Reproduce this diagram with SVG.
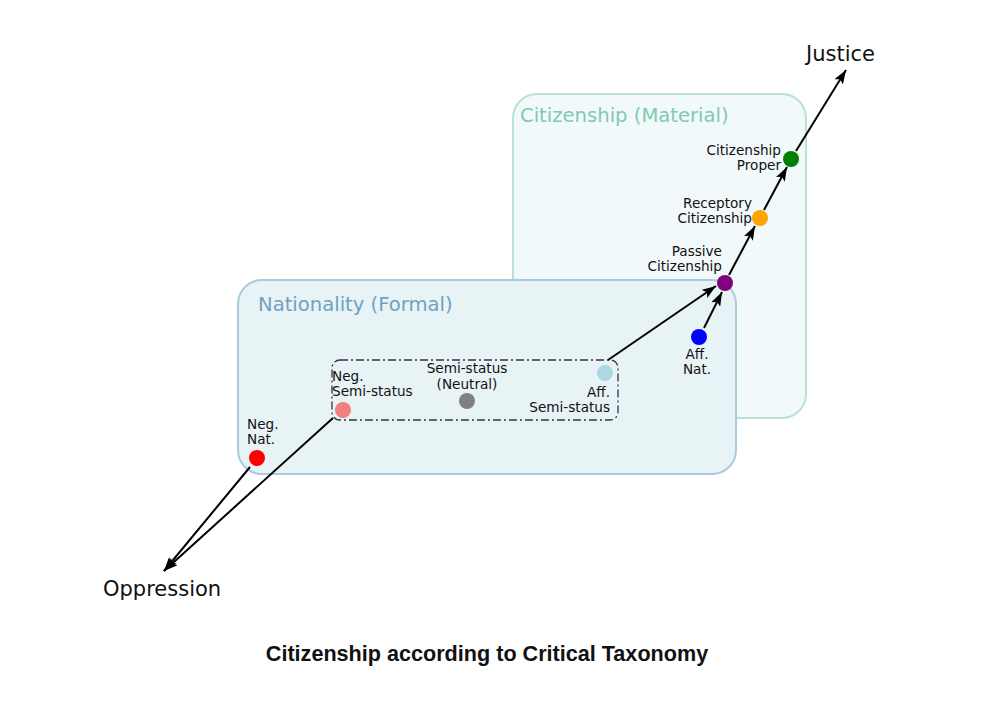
<svg xmlns="http://www.w3.org/2000/svg" width="1000" height="702" viewBox="0 0 1000 702">
<defs>
<marker id="ah" viewBox="0 0 14 10" refX="14" refY="5" markerWidth="14" markerHeight="10" markerUnits="userSpaceOnUse" orient="auto">
<path d="M0,0 L14,5 L0,10 L3,5 Z" fill="#000"/>
</marker>
</defs>
<style>
.lbl{font-family:"DejaVu Sans",Verdana,sans-serif;font-size:13.6px;fill:#111}
.big{font-family:"DejaVu Sans",Verdana,sans-serif;font-size:21px;fill:#111}
.edge{stroke:#000;stroke-width:2;fill:none;marker-end:url(#ah)}
</style>
<rect width="1000" height="702" fill="#fff"/>
<g id="citizenship-box">
<rect x="513" y="94" width="293" height="324" rx="24" fill="#f2f9fb" stroke="#b8e2d6" stroke-width="2"/>
<text x="520" y="122" font-family="DejaVu Sans,Verdana,sans-serif" font-size="19.6" fill="#7fcab0">Citizenship (Material)</text>
</g>
<g id="nationality-box">
<rect x="238" y="280" width="498" height="194" rx="24" fill="#e8f3f6" stroke="#a9cbdb" stroke-width="2"/>
<text x="258" y="311" font-family="DejaVu Sans,Verdana,sans-serif" font-size="19.6" fill="#6fa2c0">Nationality (Formal)</text>
</g>
<g id="semistatus-box">
<rect x="332" y="360" width="286" height="60" rx="8" fill="none" stroke="#334" stroke-width="1.3" stroke-dasharray="8,3,2,3"/>
</g>
<g id="connectors">
<line class="edge" x1="250" y1="467" x2="164" y2="571"/>
<line class="edge" x1="333" y1="418" x2="164" y2="571"/>
<line class="edge" x1="608" y1="360" x2="716" y2="286"/>
<line class="edge" x1="704" y1="328" x2="722" y2="292"/>
<line class="edge" x1="729" y1="275" x2="755" y2="226"/>
<line class="edge" x1="764" y1="210" x2="787" y2="167"/>
<line class="edge" x1="796" y1="151" x2="846" y2="70"/>
</g>
<g id="oppression"><text class="big" x="103" y="596">Oppression</text></g>
<g id="justice"><text class="big" x="806" y="61">Justice</text></g>
<g id="neg-nat">
<circle cx="257" cy="458" r="8" fill="#ff0000"/>
<text class="lbl" x="247" y="429">Neg.</text>
<text class="lbl" x="247" y="444">Nat.</text>
</g>
<g id="neg-semi">
<circle cx="343" cy="410" r="8" fill="#f08080"/>
<text class="lbl" x="332" y="381">Neg.</text>
<text class="lbl" x="332" y="396">Semi-status</text>
</g>
<g id="neutral-semi">
<circle cx="467" cy="401" r="8" fill="#808080"/>
<text class="lbl" x="467" y="373" text-anchor="middle">Semi-status</text>
<text class="lbl" x="467" y="389" text-anchor="middle">(Neutral)</text>
</g>
<g id="aff-semi">
<circle cx="605" cy="373" r="8" fill="#add8e6"/>
<text class="lbl" x="610" y="397" text-anchor="end">Aff.</text>
<text class="lbl" x="610" y="412" text-anchor="end">Semi-status</text>
</g>
<g id="aff-nat">
<circle cx="699" cy="337" r="8" fill="#0000ff"/>
<text class="lbl" x="697" y="359" text-anchor="middle">Aff.</text>
<text class="lbl" x="697" y="374" text-anchor="middle">Nat.</text>
</g>
<g id="passive">
<circle cx="725" cy="283" r="8" fill="#800080"/>
<text class="lbl" x="722" y="256" text-anchor="end">Passive</text>
<text class="lbl" x="722" y="271" text-anchor="end">Citizenship</text>
</g>
<g id="receptory">
<circle cx="760" cy="218" r="8" fill="#ffa500"/>
<text class="lbl" x="752" y="208" text-anchor="end">Receptory</text>
<text class="lbl" x="752" y="223" text-anchor="end">Citizenship</text>
</g>
<g id="proper">
<circle cx="791" cy="159" r="8" fill="#008000"/>
<text class="lbl" x="781" y="155" text-anchor="end">Citizenship</text>
<text class="lbl" x="781" y="170" text-anchor="end">Proper</text>
</g>
<g id="title">
<text x="487" y="661" text-anchor="middle" font-family="Liberation Sans,Arial,sans-serif" font-size="21.6" font-weight="bold" fill="#111">Citizenship according to Critical Taxonomy</text>
</g>
</svg>
